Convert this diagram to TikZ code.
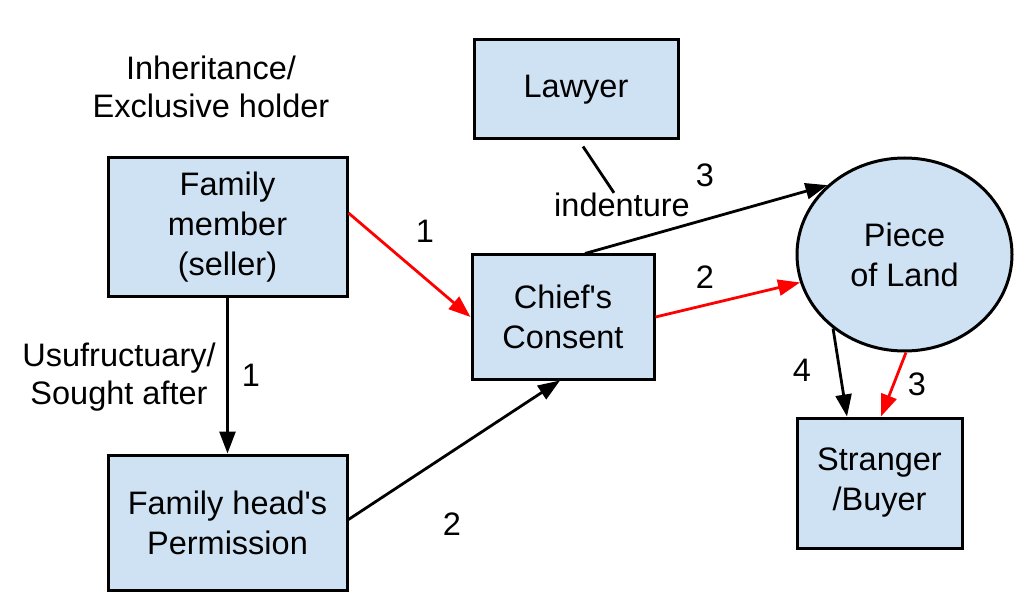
\documentclass[tikz,border=0pt]{standalone}
\usepackage{fontspec}
\setmainfont{Liberation Sans}
\usetikzlibrary{arrows.meta,shapes.geometric}
\definecolor{boxfill}{HTML}{CFE2F3}
\definecolor{flowred}{HTML}{FF0000}
\newcommand{\apos}{\textquotesingle}
\begin{document}
\begin{tikzpicture}[x=1pt,y=-1pt,
  every node/.style={font=\fontsize{32.5}{40}\selectfont, align=center, inner sep=0pt},
  box/.style={draw=black, line width=3pt, fill=boxfill, rectangle},
  land/.style={draw=black, line width=3pt, fill=boxfill, ellipse},
  flow/.style={line width=2.8pt, draw=black, -{Triangle[length=22pt,width=16pt]}},
  redflow/.style={flow, draw=flowred, -{Triangle[length=22pt,width=16pt,fill=flowred]}},
  plain/.style={line width=2.8pt, draw=black},
  lbl/.style={font=\fontsize{32.5}{38}\selectfont}]
\useasboundingbox (0,0) rectangle (1023,604);

% boxes
\node[box, minimum width=239pt, minimum height=138pt] (fm) at (227.5,227) {Family\\member\\(seller)};
\node[box, minimum width=239pt, minimum height=135pt] (fh) at (227.5,522.5) {Family head\apos s\\Permission};
\node[box, minimum width=204pt, minimum height=99pt] (lw) at (576,89.5) {Lawyer};
\node[box, minimum width=182pt, minimum height=124pt] (cc) at (563,317) {Chief\apos s\\Consent};
\node[land, minimum width=215pt, minimum height=193pt] (pl) at (904.5,254.5) {Piece\\of Land};
\node[box, minimum width=165pt, minimum height=130pt] (sb) at (879.5,483) {Stranger\\/Buyer};

% free labels
\node[lbl] (inh) at (211,87) {Inheritance/\\Exclusive holder};
\node[lbl] (usu) at (119,377) {Usufructuary/\\Sought after};
\node[lbl] (ind) at (622,205) {indenture};
\node[lbl] (n1a) at (425,231) {1};
\node[lbl] (n1b) at (251,375) {1};
\node[lbl] (n2a) at (452,524) {2};
\node[lbl] (n3a) at (705,175) {3};
\node[lbl] (n2b) at (705,277) {2};
\node[lbl] (n4) at (802,370) {4};
\node[lbl] (n3b) at (917,384) {3};

% connectors
\draw[redflow] ([yshift=14pt]fm.east) -- (cc.west);
\draw[flow] (fm.south) -- (fh.north);
\draw[flow] ([yshift=3pt]fh.east) -- ([xshift=-3pt]cc.south);
\draw[flow] ([xshift=22pt]cc.north) -- (pl.138);
\draw[redflow] (cc.east) -- (pl.195);
\draw[plain] ([shift={(7pt,-6pt)}]lw.south) -- ([xshift=-8pt]ind.north);
\draw[flow] (pl.226) -- ([xshift=-32.5pt]sb.north);
\draw[redflow] ([xshift=1.5pt]pl.south) -- ([xshift=1.5pt]sb.north);
\end{tikzpicture}
\end{document}
